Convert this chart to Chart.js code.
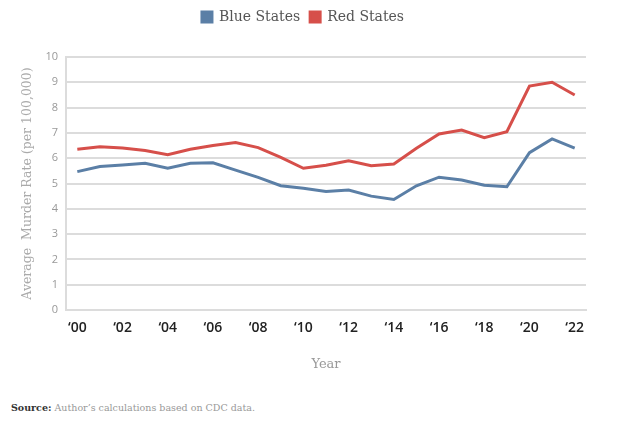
<!DOCTYPE html>
<html>
<head>
<meta charset="utf-8">
<script src="https://cdn.jsdelivr.net/npm/chart.js@4"></script>
<style>
  html, body { margin: 0; padding: 0; background: #fff; }
  #wrap { position: relative; width: 626px; height: 427px; }
  #c { position: absolute; left: 0; top: 0; }
  #src { position: absolute; left: 11px; top: 402px; font-family: "DejaVu Serif", serif; font-size: 9.5px; color: #999; }
  #src b { color: #333; }
</style>
</head>
<body>
<div id="wrap">
  <canvas id="c" width="626" height="376"></canvas>
  <div id="src"><b>Source:</b> Author’s calculations based on CDC data.</div>
</div>
<script>
const years = ["‘00","‘01","‘02","‘03","‘04","‘05","‘06","‘07","‘08","‘09","‘10","‘11","‘12","‘13","‘14","‘15","‘16","‘17","‘18","‘19","‘20","‘21","‘22"];
const blueStates = [5.47,5.67,5.73,5.8,5.6,5.8,5.82,5.53,5.24,4.91,4.81,4.68,4.74,4.5,4.37,4.91,5.25,5.14,4.93,4.87,6.22,6.76,6.4];
const redStates  = [6.35,6.45,6.4,6.3,6.14,6.35,6.5,6.62,6.42,6.03,5.6,5.72,5.9,5.7,5.77,6.39,6.96,7.11,6.81,7.05,8.85,9.0,8.5];
const yTicks = [0,1,2,3,4,5,6,7,8,9,10];

const legendSpace = {
  id: 'legendSpace',
  beforeInit(chart) {
    const origFit = chart.legend.fit;
    chart.legend.fit = function() {
      origFit.call(this);
      this.height += 23;
    };
  }
};

new Chart(document.getElementById('c'), {
  type: 'line',
  data: {
    labels: years,
    datasets: [
      { label: 'Blue States', data: blueStates, borderColor: '#5b7fa6', backgroundColor: '#5b7fa6', borderWidth: 3, pointRadius: 0, tension: 0 },
      { label: 'Red States', data: redStates, borderColor: '#d64f4a', backgroundColor: '#d64f4a', borderWidth: 3, pointRadius: 0, tension: 0 }
    ]
  },
  plugins: [legendSpace],
  options: {
    responsive: false,
    animation: false,
    layout: { padding: { left: 20, right: 40, top: 0, bottom: 0 } },
    plugins: {
      legend: {
        position: 'top',
        labels: { boxWidth: 10, boxHeight: 10, padding: 10, color: '#555', font: { family: 'DejaVu Serif', size: 14 } }
      },
      tooltip: { enabled: false }
    },
    scales: {
      x: {
        offset: true,
        grid: { display: false, drawTicks: false },
        border: { display: true, color: '#dcdcdc', width: 2 },
        ticks: {
          color: '#222', padding: 10, maxRotation: 0, autoSkip: false,
          font: { family: 'Open Sans', size: 14, weight: '600' },
          callback: function(v, i) { return i % 2 === 0 ? years[i] : ''; }
        },
        title: { display: true, text: 'Year', color: '#999', font: { family: 'DejaVu Serif', size: 13 }, padding: { top: 4 } },
        afterFit: function(s) { s.height = 66; }
      },
      y: {
        min: 0, max: 10,
        afterBuildTicks: function(s) { s.ticks = yTicks.map(v => ({ value: v })); },
        grid: { color: '#dcdcdc', lineWidth: 2, drawTicks: false },
        border: { display: true, color: '#dcdcdc', width: 2 },
        ticks: { color: '#999', padding: 8, font: { family: 'Open Sans', size: 11 } },
        title: { display: true, text: 'Average  Murder Rate (per 100,000)', color: '#aaa', font: { family: 'DejaVu Serif', size: 12.5 }, padding: 0 },
        afterFit: function(s) { s.width = 46; }
      }
    }
  }
});
</script>
</body>
</html>
